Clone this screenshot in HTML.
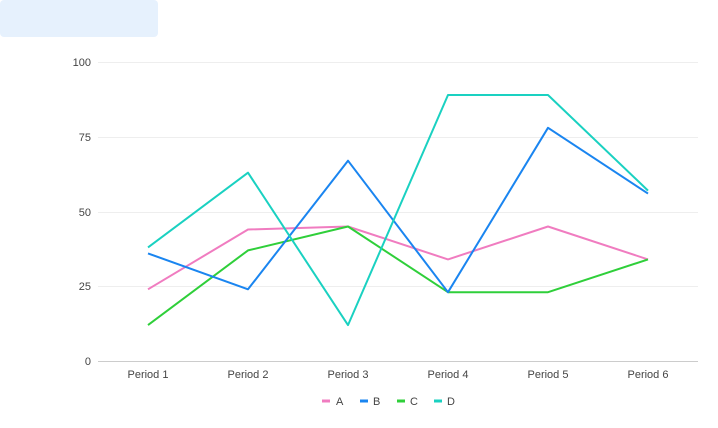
<!DOCTYPE html>
<html><head><style>
body{margin:0;background:#fff;width:718px;height:428px;overflow:hidden;font-family:"Liberation Sans",sans-serif}
</style></head><body>
<div style="position:absolute;left:0;top:0;width:158px;height:37px;background:#e6f1fd;border-radius:4px"></div>
<svg width="718" height="428" style="position:absolute;left:0;top:0" font-family="Liberation Sans, sans-serif" font-size="11" fill="#444">
<g stroke="#eee" stroke-width="1">
<line x1="98" x2="698" y1="62.5" y2="62.5"/>
<line x1="98" x2="698" y1="137.5" y2="137.5"/>
<line x1="98" x2="698" y1="212.5" y2="212.5"/>
<line x1="98" x2="698" y1="286.5" y2="286.5"/>
</g>
<line x1="98" x2="698" y1="361.5" y2="361.5" stroke="#ccc"/>
<g text-anchor="end">
<text x="91" y="66">100</text><text x="91" y="141">75</text><text x="91" y="216">50</text><text x="91" y="290">25</text><text x="91" y="365">0</text>
</g>
<g text-anchor="middle">
<text x="148" y="378">Period 1</text><text x="248" y="378">Period 2</text><text x="348" y="378">Period 3</text><text x="448" y="378">Period 4</text><text x="548" y="378">Period 5</text><text x="648" y="378">Period 6</text>
</g>
<g fill="none" stroke-width="2" stroke-linejoin="round">
<polyline stroke="#f07cc0" points="148,289.3 248,229.5 348,226.5 448,259.4 548,226.5 648,259.4"/>
<polyline stroke="#2fcf3a" points="148,325.1 248,250.4 348,226.5 448,292.2 548,292.2 648,259.4"/>
<polyline stroke="#1a85f0" points="148,253.4 248,289.3 348,160.7 448,292.2 548,127.8 648,193.6"/>
<polyline stroke="#1ad1c1" points="148,247.4 248,172.7 348,325.1 448,95 548,95 648,190.6"/>
</g>
<g stroke-width="3">
<line x1="322" x2="330" y1="401" y2="401" stroke="#f07cc0"/>
<line x1="360" x2="368" y1="401" y2="401" stroke="#1a85f0"/>
<line x1="397" x2="405" y1="401" y2="401" stroke="#2fcf3a"/>
<line x1="434" x2="442" y1="401" y2="401" stroke="#1ad1c1"/>
</g>
<text x="336" y="405">A</text><text x="373" y="405">B</text><text x="410" y="405">C</text><text x="447" y="405">D</text>
</svg>
</body></html>
